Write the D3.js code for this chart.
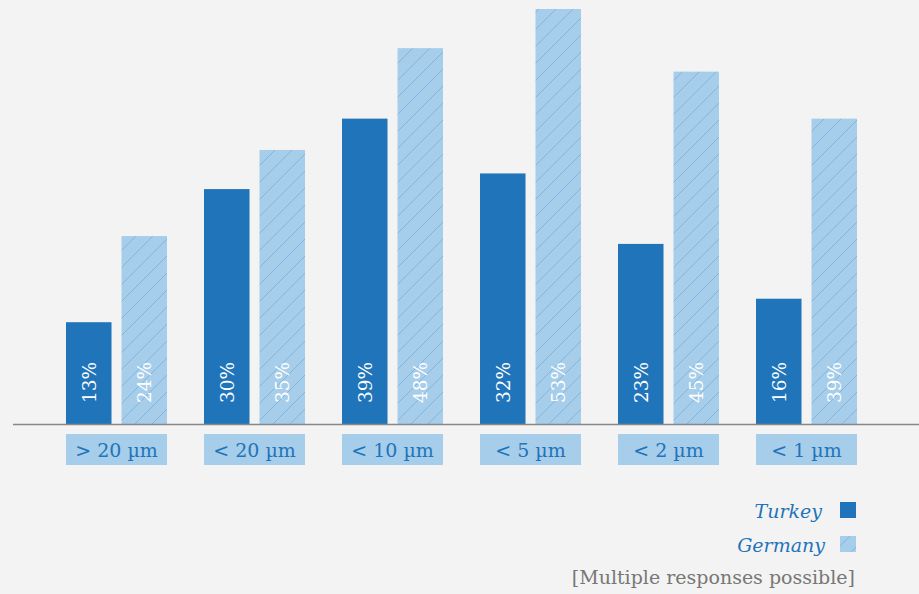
<!DOCTYPE html>
<html><head><meta charset="utf-8">
<script src="https://cdn.jsdelivr.net/npm/d3@7"></script>
<style>
html,body{margin:0;padding:0;background:#f3f3f3;}
svg{display:block;}
</style></head>
<body>
<script>
const categories = ["> 20 µm", "< 20 µm", "< 10 µm", "< 5 µm", "< 2 µm", "< 1 µm"];
const series = ["Turkey", "Germany"];
const turkey = [13, 30, 39, 32, 23, 16];
const germany = [24, 35, 48, 53, 45, 39];
const footnote = "[Multiple responses possible]";

const W = 919, H = 594;
const dark = "#1f74ba", light = "#a6cde9", hatch = "#82b5df";
const font = "'DejaVu Serif', serif";

const svg = d3.select("body").append("svg").attr("width", W).attr("height", H);
svg.append("rect").attr("width", W).attr("height", H).attr("fill", "#f3f3f3");

const defs = svg.append("defs");
const pat = defs.append("pattern").attr("id", "hatch").attr("patternUnits", "userSpaceOnUse")
  .attr("width", 17).attr("height", 17);
pat.append("rect").attr("width", 17).attr("height", 17).attr("fill", light);
pat.append("path").attr("d", "M-1,18 L18,-1 M-4,4 L4,-4 M13,21 L21,13")
  .attr("stroke", hatch).attr("stroke-width", 1);

const x0 = d3.scaleBand().domain(categories).range([66, 66 + 138 * 6]).paddingInner(0).paddingOuter(0);
const x1 = d3.scaleBand().domain(series).range([0, 101]).paddingInner(0.18);
const y = d3.scaleLinear().domain([0, 53]).range([424, 9]);

const data = categories.map((c, i) => ({c, vals: [{s: "Turkey", v: turkey[i]}, {s: "Germany", v: germany[i]}]}));

const g = svg.selectAll("g.grp").data(data).join("g").attr("class", "grp")
  .attr("transform", d => `translate(${x0(d.c)},0)`);

g.selectAll("rect.bar").data(d => d.vals).join("rect").attr("class", "bar")
  .attr("x", d => x1(d.s)).attr("width", x1.bandwidth())
  .attr("y", d => y(d.v)).attr("height", d => y(0) - y(d.v))
  .attr("fill", d => d.s === "Turkey" ? dark : "url(#hatch)");

g.selectAll("text.val").data(d => d.vals).join("text").attr("class", "val")
  .attr("transform", d => `translate(${x1(d.s) + x1.bandwidth() / 2 + 7},${y(0) - 21}) rotate(-90)`)
  .attr("text-anchor", "start").attr("fill", "#fff")
  .attr("font-family", font).attr("font-size", 18.5)
  .text(d => d.v + "%");

// axis line
svg.append("line").attr("x1", 13).attr("x2", W).attr("y1", 424.5).attr("y2", 424.5)
  .attr("stroke", "#888").attr("stroke-width", 1.5);

// category labels
g.append("rect").attr("x", 0).attr("y", 434).attr("width", 101).attr("height", 31).attr("fill", light);
g.append("text").attr("x", 50.5).attr("y", 457).attr("text-anchor", "middle")
  .attr("fill", dark).attr("font-family", font).attr("font-size", 19)
  .text(d => d.c);

// legend
const leg = svg.selectAll("g.leg").data(series).join("g").attr("class", "leg")
  .attr("transform", (d, i) => `translate(0,${502 + i * 34})`);
leg.append("rect").attr("x", 840).attr("y", 0).attr("width", 16).attr("height", 16)
  .attr("fill", (d, i) => i === 0 ? dark : "url(#hatch)");
leg.append("text").attr("x", (d, i) => i === 0 ? 822 : 825).attr("y", 16).attr("text-anchor", "end")
  .attr("fill", dark).attr("font-family", font).attr("font-style", "italic").attr("font-size", 19)
  .text(d => d);

svg.append("text").attr("x", 855).attr("y", 584).attr("text-anchor", "end")
  .attr("fill", "#777").attr("font-family", font).attr("font-size", 19)
  .text(footnote);
</script>
</body></html>
